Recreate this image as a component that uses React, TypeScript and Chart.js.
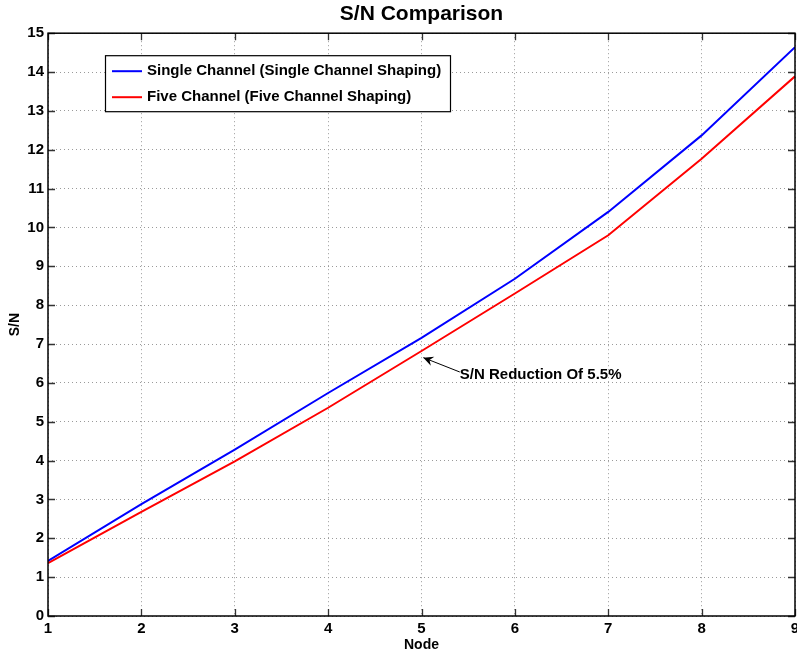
import { useEffect, useRef } from 'react';
import { Chart, registerables } from 'chart.js';

Chart.register(...registerables);

// Nodes along the chain and the signal-to-noise ratio at each one
const nodes = [1, 2, 3, 4, 5, 6, 7, 8, 9];
const singleChannel = [1.42, 2.88, 4.28, 5.74, 7.16, 8.68, 10.4, 12.37, 14.64];
const fiveChannel = [1.36, 2.68, 3.98, 5.36, 6.82, 8.3, 9.8, 11.77, 13.89];

const seriesNames = [
  'Single Channel (Single Channel Shaping)',
  'Five Channel (Five Channel Shaping)',
];
const seriesColors = ['#0000ff', '#ff0000'];

const chartTitle = 'S/N Comparison';
const xTitle = 'Node';
const yTitle = 'S/N';
const xRange = [1, 9];
const yRange = [0, 15];

// Text arrow: tip near the red curve at node 5, tail at the start of the note
const noteText = 'S/N Reduction Of 5.5%';
const noteTip = { x: 5.02, y: 6.65 };
const noteTail = { x: 5.41, y: 6.28 };
const noteAnchor = { x: 5.41, y: 6.2 };

const FONT = "'Liberation Sans', Arial, Helvetica, sans-serif";

// Boxed axes with inward ticks on all four sides, the legend box and the arrow note
const framePlugin = {
  id: 'frame',
  afterDatasetsDraw(chart: any) {
    const { ctx, chartArea: a, scales } = chart;
    const xs = scales.x;
    const ys = scales.y;
    const tickLen = 7;
    ctx.save();

    // inward ticks
    ctx.strokeStyle = '#333';
    ctx.lineWidth = 1.3;
    ctx.beginPath();
    for (const t of xs.ticks) {
      const px = Math.round(xs.getPixelForValue(t.value)) + 0.5;
      ctx.moveTo(px, a.bottom);
      ctx.lineTo(px, a.bottom - tickLen);
      ctx.moveTo(px, a.top);
      ctx.lineTo(px, a.top + tickLen);
    }
    for (const t of ys.ticks) {
      const py = Math.round(ys.getPixelForValue(t.value)) + 0.5;
      ctx.moveTo(a.left, py);
      ctx.lineTo(a.left + tickLen, py);
      ctx.moveTo(a.right, py);
      ctx.lineTo(a.right - tickLen, py);
    }
    ctx.stroke();

    // axes box
    ctx.strokeStyle = '#000';
    ctx.lineWidth = 1.5;
    ctx.strokeRect(a.left, a.top, a.right - a.left, a.bottom - a.top);

    // legend
    const lx = a.left + 57;
    const ly = a.top + 22;
    const lw = 345;
    const lh = 56;
    ctx.fillStyle = '#fff';
    ctx.fillRect(lx, ly, lw, lh);
    ctx.strokeStyle = '#000';
    ctx.lineWidth = 1.2;
    ctx.strokeRect(lx + 0.5, ly + 0.5, lw, lh);
    ctx.font = `bold 15px ${FONT}`;
    ctx.textBaseline = 'middle';
    ctx.textAlign = 'left';
    seriesNames.forEach((name, i) => {
      const ry = ly + 16 + i * 26;
      ctx.strokeStyle = seriesColors[i];
      ctx.lineWidth = 2;
      ctx.beginPath();
      ctx.moveTo(lx + 7, ry);
      ctx.lineTo(lx + 37, ry);
      ctx.stroke();
      ctx.fillStyle = '#000';
      ctx.fillText(name, lx + 42, ry);
    });

    // arrow note
    const tipX = xs.getPixelForValue(noteTip.x);
    const tipY = ys.getPixelForValue(noteTip.y);
    const tailX = xs.getPixelForValue(noteTail.x);
    const tailY = ys.getPixelForValue(noteTail.y);
    const ang = Math.atan2(tipY - tailY, tipX - tailX);
    const hl = 11;
    const hw = 0.45;
    ctx.strokeStyle = '#000';
    ctx.fillStyle = '#000';
    ctx.lineWidth = 1;
    ctx.beginPath();
    ctx.moveTo(tailX, tailY);
    ctx.lineTo(tipX, tipY);
    ctx.stroke();
    ctx.beginPath();
    ctx.moveTo(tipX, tipY);
    ctx.lineTo(tipX - hl * Math.cos(ang - hw), tipY - hl * Math.sin(ang - hw));
    ctx.lineTo(tipX - hl * 0.6 * Math.cos(ang), tipY - hl * 0.6 * Math.sin(ang));
    ctx.lineTo(tipX - hl * Math.cos(ang + hw), tipY - hl * Math.sin(ang + hw));
    ctx.closePath();
    ctx.fill();

    ctx.font = `bold 15px ${FONT}`;
    ctx.fillStyle = '#000';
    ctx.textBaseline = 'middle';
    ctx.fillText(noteText, xs.getPixelForValue(noteAnchor.x), ys.getPixelForValue(noteAnchor.y));

    ctx.restore();
  },
};

export default function App() {
  const canvasRef = useRef<HTMLCanvasElement | null>(null);

  useEffect(() => {
    const canvas = canvasRef.current;
    if (!canvas) return;
    Chart.defaults.font.family = FONT;

    const tickFont = { size: 15, weight: 'bold' as const };
    const chart = new Chart(canvas, {
      type: 'line',
      data: {
        datasets: [singleChannel, fiveChannel].map((vals, i) => ({
          label: seriesNames[i],
          data: nodes.map((n, k) => ({ x: n, y: vals[k] })),
          borderColor: seriesColors[i],
          backgroundColor: seriesColors[i],
          borderWidth: 2,
          pointRadius: 0,
          tension: 0,
          fill: false,
        })),
      },
      options: {
        responsive: false,
        animation: false,
        layout: { padding: { left: 0, right: 2, top: 0, bottom: 0 } },
        plugins: {
          legend: { display: false },
          tooltip: { enabled: false },
          title: {
            display: true,
            text: chartTitle,
            fullSize: false,
            color: '#000',
            font: { size: 21, weight: 'bold', lineHeight: 1.2 },
            padding: { top: 2, bottom: 6 },
          },
        },
        scales: {
          x: {
            type: 'linear',
            min: xRange[0],
            max: xRange[1],
            ticks: { stepSize: 1, color: '#000', font: tickFont, padding: 4, maxRotation: 0, autoSkip: false },
            grid: { color: '#9a9a9a', lineWidth: 1, drawTicks: false },
            border: { display: false, dash: [1, 3] },
            title: {
              display: true,
              text: xTitle,
              color: '#000',
              font: { size: 14, weight: 'bold', lineHeight: 1.2 },
              padding: { top: 0, bottom: 2 },
            },
            afterFit: (s: any) => {
              s.height = 40;
              s.paddingLeft = 0;
              s.paddingRight = 0;
            },
          },
          y: {
            type: 'linear',
            min: yRange[0],
            max: yRange[1],
            ticks: { stepSize: 1, color: '#000', font: tickFont, padding: 4, autoSkip: false },
            grid: { color: '#9a9a9a', lineWidth: 1, drawTicks: false },
            border: { display: false, dash: [1, 3] },
            title: {
              display: true,
              text: yTitle,
              color: '#000',
              font: { size: 14, weight: 'bold', lineHeight: 1.2 },
              padding: { top: 7, bottom: 0 },
            },
            afterFit: (s: any) => {
              s.width = 48;
              s.paddingTop = 0;
              s.paddingBottom = 0;
            },
          },
        },
      },
      plugins: [framePlugin],
    });

    return () => chart.destroy();
  }, []);

  return (
    <div style={{ position: 'absolute', left: 0, top: 0, width: 797, height: 656, background: '#fff' }}>
      <canvas ref={canvasRef} width={797} height={656} style={{ display: 'block' }} />
    </div>
  );
}
